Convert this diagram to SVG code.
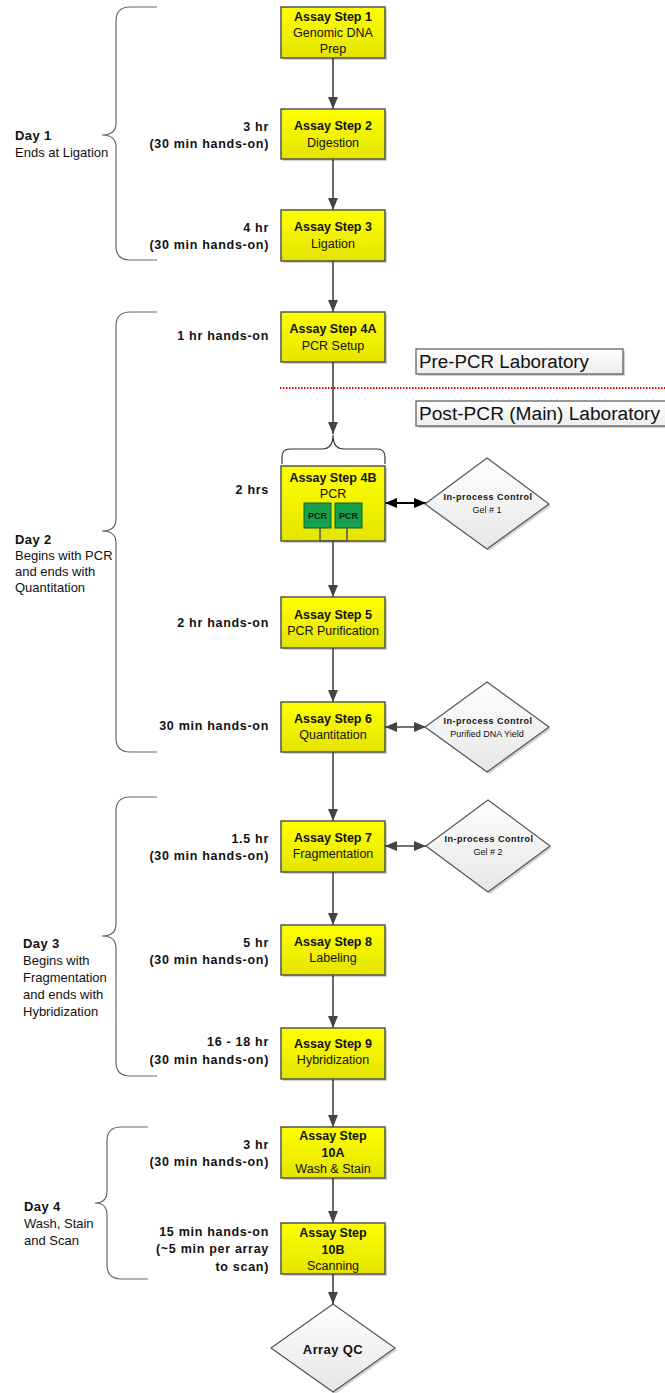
<svg xmlns="http://www.w3.org/2000/svg" width="665" height="1393" viewBox="0 0 665 1393">
<defs>
<linearGradient id="yel" x1="0" y1="0" x2="0" y2="1">
<stop offset="0" stop-color="#FFFF00"/>
<stop offset="1" stop-color="#E4E400"/>
</linearGradient>
<linearGradient id="gry" x1="0" y1="0" x2="0" y2="1">
<stop offset="0" stop-color="#FFFFFF"/>
<stop offset="1" stop-color="#E6E6E6"/>
</linearGradient>
<linearGradient id="lab" x1="0" y1="0" x2="0" y2="1">
<stop offset="0" stop-color="#FFFFFF"/>
<stop offset="1" stop-color="#EDEDED"/>
</linearGradient>
<marker id="ah" markerUnits="userSpaceOnUse" markerWidth="12" markerHeight="10" refX="12" refY="5" orient="auto-start-reverse">
<path d="M0,0 L12,5 L0,10 z" fill="#444"/>
</marker>
<marker id="ahk" markerUnits="userSpaceOnUse" markerWidth="12" markerHeight="10" refX="12" refY="5" orient="auto-start-reverse">
<path d="M0,0 L12,5 L0,10 z" fill="#000"/>
</marker>
<style>
text{font-family:"Liberation Sans",Arial,sans-serif;fill:#111}
.box{fill:url(#yel);stroke:#4a4a4a;stroke-width:1.4}
.sh{fill:#000;opacity:0.18}
.dia{fill:url(#gry);stroke:#555;stroke-width:1.2}
.lab{fill:url(#lab);stroke:#555;stroke-width:1.2}
.brace{fill:none;stroke:#666;stroke-width:1.2}
.con{fill:none;stroke:#444;stroke-width:1.6}
.lbl{font-size:12.5px;font-weight:bold;letter-spacing:0.7px;text-anchor:end}
.bt{font-size:12.5px;font-weight:bold;text-anchor:middle}
.bn{font-size:12.5px;text-anchor:middle}
.day{font-size:13px;font-weight:bold;letter-spacing:0.4px}
.dayn{font-size:13px}
.ipc{font-size:9px;font-weight:bold;letter-spacing:0.5px;text-anchor:middle}
.ipn{font-size:9px;text-anchor:middle}
.grn{fill:#17a04d;stroke:#0d5e2c;stroke-width:1}
.pcr{font-size:9px;font-weight:bold;text-anchor:middle;fill:#0a1a0a}
</style>
</defs>
<rect width="665" height="1393" fill="#fff"/>

<!-- Day braces -->
<g id="day1">
<path class="brace" d="M157,7 H130 Q116,7 116,21 V123 Q116,135 102,135 Q116,135 116,147 V246 Q116,260 130,260 H157"/>
<text class="day" x="15" y="140">Day 1</text>
<text class="dayn" x="15" y="157">Ends at Ligation</text>
</g>
<g id="day2">
<path class="brace" d="M157,312 H130 Q116,312 116,326 V519 Q116,531 102,531 Q116,531 116,543 V738 Q116,752 130,752 H157"/>
<text class="day" x="15" y="544">Day 2</text>
<text class="dayn" x="15" y="560">Begins with PCR</text>
<text class="dayn" x="15" y="576">and ends with</text>
<text class="dayn" x="15" y="592">Quantitation</text>
</g>
<g id="day3">
<path class="brace" d="M157,797 H130 Q116,797 116,811 V924 Q116,936 102,936 Q116,936 116,948 V1062 Q116,1076 130,1076 H157"/>
<text class="day" x="23" y="948">Day 3</text>
<text class="dayn" x="23" y="965">Begins with</text>
<text class="dayn" x="23" y="982">Fragmentation</text>
<text class="dayn" x="23" y="999">and ends with</text>
<text class="dayn" x="23" y="1016">Hybridization</text>
</g>
<g id="day4">
<path class="brace" d="M148,1127 H121 Q107,1127 107,1141 V1191 Q107,1203 95,1203 Q107,1203 107,1215 V1265 Q107,1279 121,1279 H148"/>
<text class="day" x="24" y="1211">Day 4</text>
<text class="dayn" x="24" y="1228">Wash, Stain</text>
<text class="dayn" x="24" y="1245">and Scan</text>
</g>

<!-- Time labels -->
<g id="times">
<text class="lbl" x="269" y="131">3 hr</text>
<text class="lbl" x="269" y="148">(30 min hands-on)</text>
<text class="lbl" x="269" y="232">4 hr</text>
<text class="lbl" x="269" y="249">(30 min hands-on)</text>
<text class="lbl" x="269" y="340">1 hr hands-on</text>
<text class="lbl" x="269" y="494">2 hrs</text>
<text class="lbl" x="269" y="627">2 hr hands-on</text>
<text class="lbl" x="269" y="730">30 min hands-on</text>
<text class="lbl" x="269" y="843">1.5 hr</text>
<text class="lbl" x="269" y="860">(30 min hands-on)</text>
<text class="lbl" x="269" y="947">5 hr</text>
<text class="lbl" x="269" y="964">(30 min hands-on)</text>
<text class="lbl" x="269" y="1046">16 - 18 hr</text>
<text class="lbl" x="269" y="1064">(30 min hands-on)</text>
<text class="lbl" x="269" y="1149">3 hr</text>
<text class="lbl" x="269" y="1166">(30 min hands-on)</text>
<text class="lbl" x="269" y="1236">15 min hands-on</text>
<text class="lbl" x="269" y="1253">(~5 min per array</text>
<text class="lbl" x="269" y="1271">to scan)</text>
</g>

<!-- Lab zones -->
<g id="zones">
<line x1="280" y1="388" x2="665" y2="388" stroke="#e00" stroke-width="2" stroke-dasharray="1.5 1.5"/>
<rect class="sh" x="418" y="351" width="207" height="25"/>
<rect class="lab" x="416" y="349" width="207" height="25"/>
<text x="419" y="368" font-size="18" textLength="170" lengthAdjust="spacingAndGlyphs">Pre-PCR Laboratory</text>
<rect class="sh" x="418" y="403" width="260" height="25"/>
<rect class="lab" x="416" y="401" width="260" height="25"/>
<text x="419" y="420" font-size="18" textLength="241" lengthAdjust="spacingAndGlyphs">Post-PCR (Main) Laboratory</text>
</g>

<!-- Connectors -->
<g id="connectors">
<line class="con" x1="333" y1="58" x2="333" y2="109" marker-end="url(#ah)"/>
<line class="con" x1="333" y1="159" x2="333" y2="210" marker-end="url(#ah)"/>
<line class="con" x1="333" y1="261" x2="333" y2="312" marker-end="url(#ah)"/>
<line class="con" x1="333" y1="362" x2="333" y2="434" marker-end="url(#ah)"/>
<path fill="none" stroke="#333" stroke-width="1.2" d="M282,464 V457 Q282,449 290,449 H322 Q333,449 333,435 Q333,449 344,449 H377 Q385,449 385,457 V464"/>
<line class="con" x1="333" y1="541" x2="333" y2="597" marker-end="url(#ah)"/>
<line class="con" x1="333" y1="648" x2="333" y2="702" marker-end="url(#ah)"/>
<line class="con" x1="333" y1="752" x2="333" y2="821" marker-end="url(#ah)"/>
<line class="con" x1="333" y1="872" x2="333" y2="925" marker-end="url(#ah)"/>
<line class="con" x1="333" y1="975" x2="333" y2="1028" marker-end="url(#ah)"/>
<line class="con" x1="333" y1="1079" x2="333" y2="1127" marker-end="url(#ah)"/>
<line class="con" x1="333" y1="1178" x2="333" y2="1223" marker-end="url(#ah)"/>
<line class="con" x1="333" y1="1274" x2="333" y2="1304" marker-end="url(#ah)"/>
<line x1="385" y1="503" x2="426" y2="503" stroke="#000" stroke-width="2" marker-start="url(#ahk)" marker-end="url(#ahk)"/>
<line class="con" x1="385" y1="727" x2="426" y2="727" marker-start="url(#ah)" marker-end="url(#ah)"/>
<line class="con" x1="385" y1="846" x2="426" y2="846" marker-start="url(#ah)" marker-end="url(#ah)"/>
</g>

<!-- Step nodes -->
<g id="step1">
<rect class="sh" x="283" y="9" width="104" height="51"/>
<rect class="box" x="281" y="7" width="104" height="51"/>
<text class="bt" x="333" y="21">Assay Step 1</text>
<text class="bn" x="333" y="37">Genomic DNA</text>
<text class="bn" x="333" y="53">Prep</text>
</g>
<g id="step2">
<rect class="sh" x="283" y="111" width="104" height="50"/>
<rect class="box" x="281" y="109" width="104" height="50"/>
<text class="bt" x="333" y="130">Assay Step 2</text>
<text class="bn" x="333" y="147">Digestion</text>
</g>
<g id="step3">
<rect class="sh" x="283" y="212" width="104" height="51"/>
<rect class="box" x="281" y="210" width="104" height="51"/>
<text class="bt" x="333" y="231">Assay Step 3</text>
<text class="bn" x="333" y="248">Ligation</text>
</g>
<g id="step4a">
<rect class="sh" x="283" y="314" width="104" height="50"/>
<rect class="box" x="281" y="312" width="104" height="50"/>
<text class="bt" x="333" y="333">Assay Step 4A</text>
<text class="bn" x="333" y="350">PCR Setup</text>
</g>
<g id="step4b">
<rect class="sh" x="283" y="468" width="104" height="75"/>
<rect class="box" x="281" y="466" width="104" height="75"/>
<text class="bt" x="333" y="482">Assay Step 4B</text>
<text class="bn" x="333" y="498">PCR</text>
<rect class="grn" x="304" y="503" width="27" height="25"/>
<rect class="grn" x="335" y="503" width="27" height="25"/>
<text class="pcr" x="317.5" y="519">PCR</text>
<text class="pcr" x="348.5" y="519">PCR</text>
<path fill="none" stroke="#555" stroke-width="1.5" d="M320,528 V541 H347 V528"/>
</g>
<g id="step5">
<rect class="sh" x="283" y="599" width="104" height="51"/>
<rect class="box" x="281" y="597" width="104" height="51"/>
<text class="bt" x="333" y="619">Assay Step 5</text>
<text class="bn" x="333" y="635">PCR Purification</text>
</g>
<g id="step6">
<rect class="sh" x="283" y="704" width="104" height="50"/>
<rect class="box" x="281" y="702" width="104" height="50"/>
<text class="bt" x="333" y="723">Assay Step 6</text>
<text class="bn" x="333" y="739">Quantitation</text>
</g>
<g id="step7">
<rect class="sh" x="283" y="823" width="104" height="51"/>
<rect class="box" x="281" y="821" width="104" height="51"/>
<text class="bt" x="333" y="842">Assay Step 7</text>
<text class="bn" x="333" y="858">Fragmentation</text>
</g>
<g id="step8">
<rect class="sh" x="283" y="927" width="104" height="50"/>
<rect class="box" x="281" y="925" width="104" height="50"/>
<text class="bt" x="333" y="946">Assay Step 8</text>
<text class="bn" x="333" y="962">Labeling</text>
</g>
<g id="step9">
<rect class="sh" x="283" y="1030" width="104" height="51"/>
<rect class="box" x="281" y="1028" width="104" height="51"/>
<text class="bt" x="333" y="1048">Assay Step 9</text>
<text class="bn" x="333" y="1064">Hybridization</text>
</g>
<g id="step10a">
<rect class="sh" x="283" y="1129" width="104" height="51"/>
<rect class="box" x="281" y="1127" width="104" height="51"/>
<text class="bt" x="333" y="1140">Assay Step</text>
<text class="bt" x="333" y="1157">10A</text>
<text class="bn" x="333" y="1173">Wash &amp; Stain</text>
</g>
<g id="step10b">
<rect class="sh" x="283" y="1225" width="104" height="51"/>
<rect class="box" x="281" y="1223" width="104" height="51"/>
<text class="bt" x="333" y="1237">Assay Step</text>
<text class="bt" x="333" y="1254">10B</text>
<text class="bn" x="333" y="1270">Scanning</text>
</g>

<!-- Decision nodes -->
<g id="gel1">
<path class="sh" d="M489,460 L551,506 L489,551 L427,506 Z"/>
<path class="dia" d="M487,458 L549,504 L487,549 L425,504 Z"/>
<text class="ipc" x="488" y="500">In-process Control</text>
<text class="ipn" x="487" y="513">Gel # 1</text>
</g>
<g id="yield">
<path class="sh" d="M489,684 L551,729 L489,774 L427,729 Z"/>
<path class="dia" d="M487,682 L549,727 L487,772 L425,727 Z"/>
<text class="ipc" x="488" y="724">In-process Control</text>
<text class="ipn" x="487" y="737">Purified DNA Yield</text>
</g>
<g id="gel2">
<path class="sh" d="M490,802 L552,848 L490,894 L428,848 Z"/>
<path class="dia" d="M488,800 L550,846 L488,892 L426,846 Z"/>
<text class="ipc" x="489" y="842">In-process Control</text>
<text class="ipn" x="488" y="855">Gel # 2</text>
</g>
<g id="arrayqc">
<path class="sh" d="M335,1306 L397,1350 L335,1394 L273,1350 Z"/>
<path class="dia" d="M333,1304 L395,1348 L333,1392 L271,1348 Z"/>
<text x="333" y="1354" font-size="13" font-weight="bold" letter-spacing="0.4" text-anchor="middle">Array QC</text>
</g>
</svg>
